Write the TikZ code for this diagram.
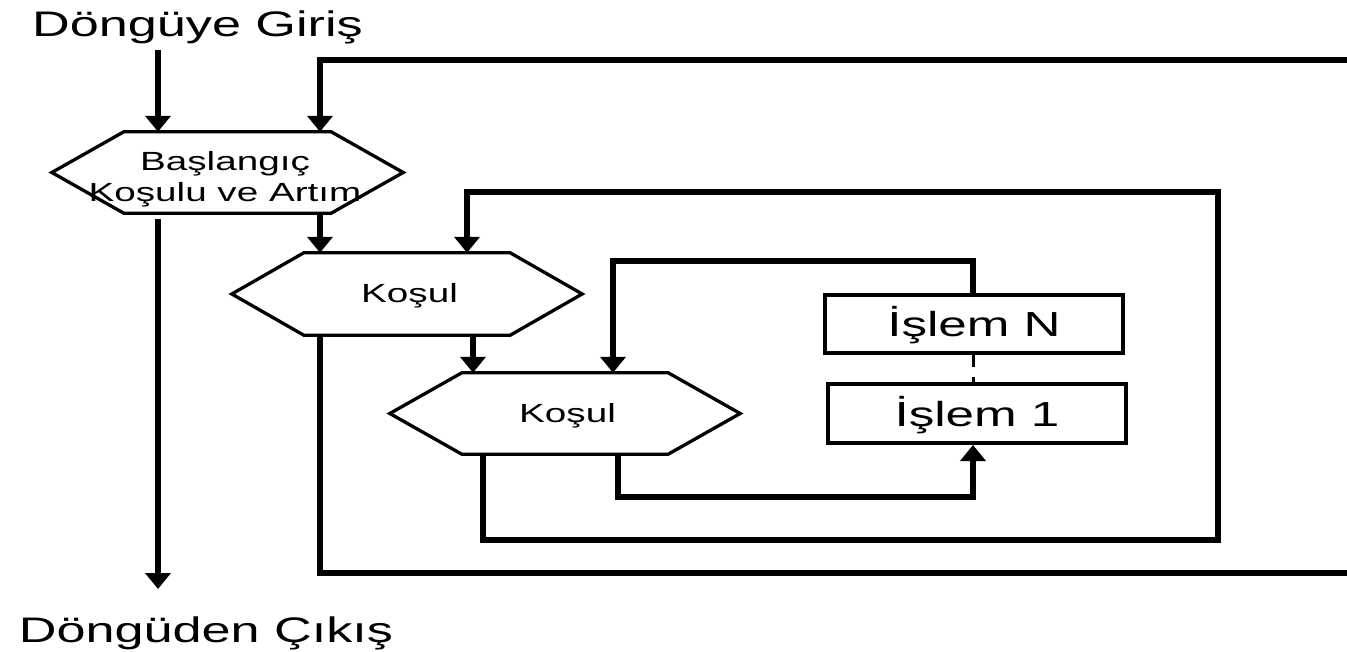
\documentclass[tikz,border=0pt]{standalone}
\usepackage{fontspec}
\setmainfont{Liberation Sans}[FakeStretch=1.47]
\usetikzlibrary{arrows.meta}
\begin{document}
\begin{tikzpicture}[x=1pt,y=-1pt,
  lbl/.style={inner sep=0pt, font=\fontsize{35.5}{42}\selectfont},
  hexframe/.style={inner sep=0pt, minimum width=350pt, minimum height=81pt},
  hextext/.style={inner sep=0pt, align=center, font=\fontsize{26.3}{31}\selectfont},
  hexline/.style={line width=3.3pt, line join=miter},
  opbox/.style={draw, line width=4pt, inner sep=0pt, minimum width=298pt,
    minimum height=58pt, text height=25pt, text depth=0pt,
    font=\fontsize{34.8}{40}\selectfont},
  flow/.style={line width=5.5pt, line join=miter},
  arr/.style={flow, -{Triangle[width=25pt,length=16pt]}},
  link/.style={line width=3pt, dash pattern=on 12pt off 10pt}]
\useasboundingbox (0,0) rectangle (1347,652);

% entry and exit labels
\node[lbl, anchor=base] (tin) at (197.5,37) {Döngüye Giriş};
\node[lbl, anchor=base] (tout) at (206,642) {Döngüden Çıkış};

% hexagon frames (geometry) and their captions
\node[hexframe, minimum width=351pt] (h1) at (227.5,172.5) {};
\node[hexframe, minimum height=82pt] (h2) at (407,294) {};
\node[hexframe] (h3) at (565,413.5) {};
\foreach \n in {h1,h2,h3}
  \draw[hexline] ([xshift=72pt]\n.north west) -- ([xshift=-72pt]\n.north east)
    -- (\n.east) -- ([xshift=-72pt]\n.south east)
    -- ([xshift=72pt]\n.south west) -- (\n.west) -- cycle;
\node[hextext, anchor=north] (h1t) at (225,151) {Başlangıç\\Koşulu ve Artım};
\node[hextext, anchor=base] (h2t) at (409.5,303) {Koşul};
\node[hextext, anchor=base] (h3t) at (567.5,422) {Koşul};

% operation boxes
\node[opbox] (bN) at (974,324) {İşlem N};
\node[opbox, minimum height=59pt] (b1) at (977,413.5) {İşlem 1};

% routing points
\coordinate (entry) at (158,50);
\coordinate (exitEnd) at (158,589);
\coordinate (colB) at (320,0);
\coordinate (colC) at (467,0);
\coordinate (colD) at (473,0);
\coordinate (colE) at (483,0);
\coordinate (colF) at (613,0);
\coordinate (colG) at (618,0);
\coordinate (outerTop) at (1347,60);
\coordinate (outerBot) at (1347,573);
\coordinate (l2br) at (1218,540);
\coordinate (l2tr) at (1218,192);
\coordinate (l3tr) at (973,261);
\coordinate (l1br) at (973,497);

% connectors
\draw[arr] (entry) -- (entry |- h1.north);
\draw[arr] (outerTop) -| (colB |- h1.north);
\draw[arr] ([yshift=-6pt]entry |- h1.south) -- (exitEnd);
\draw[arr] (colB |- h1.south) -- (colB |- h2.north);
\draw[flow] (colB |- h2.south) |- (outerBot);
\draw[arr] (colD |- h2.south) -- (colD |- h3.north);
\draw[arr] (colE |- h3.south) |- (l2br) -- (l2tr) -| (colC |- h2.north);
\draw[arr] (l3tr |- bN.north) -- (l3tr) -| (colF |- h3.north);
\draw[arr] (colG |- h3.south) |- (l1br) -- (l1br |- b1.south);
\draw[link] (l3tr |- bN.south) -- (l3tr |- b1.north);
\end{tikzpicture}
\end{document}
